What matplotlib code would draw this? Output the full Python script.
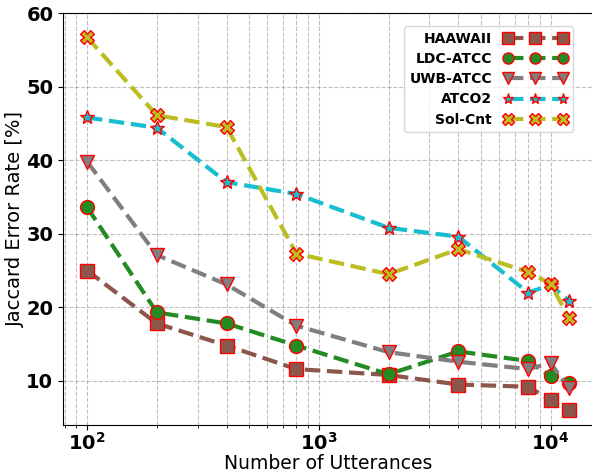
import matplotlib
matplotlib.use('Agg')
from matplotlib import pyplot as plt

utterances = [100, 200, 400, 800, 2000, 4000, 8000, 10000, 12000]

haawaii = [25.0, 17.8, 14.8, 11.6, 10.8, 9.5, 9.2, 7.4, 6.1]
ldc_atcc = [33.6, 19.3, 17.8, 14.8, 10.9, 14.0, 12.7, 10.6, 9.7]
uwb_atcc = [39.8, 27.1, 23.1, 17.5, 13.9, 12.6, 11.6, 12.4, 9.0]
atco2 = [45.8, 44.4, 37.0, 35.4, 30.8, 29.6, 22.0, 23.0, 20.9]
sol_cnt = [56.7, 46.1, 44.5, 27.3, 24.5, 27.9, 24.8, 23.2, 18.6]

series = [
    ('HAAWAII', haawaii, 'tab:brown', 's'),
    ('LDC-ATCC', ldc_atcc, 'forestgreen', 'o'),
    ('UWB-ATCC', uwb_atcc, 'tab:gray', 'v'),
    ('ATCO2', atco2, 'tab:cyan', '*'),
    ('Sol-Cnt', sol_cnt, 'tab:olive', 'X'),
]

fig = plt.figure(figsize=(5.92, 4.72), dpi=100)
ax = fig.add_axes([63 / 592, 1 - 425 / 472, 530 / 592, 412 / 472])

for name, vals, col, mk in series:
    ax.plot(utterances, vals, linestyle='--', linewidth=3, color=col,
            marker=mk, markersize=10, markeredgecolor='red',
            markeredgewidth=1.0, label=name)

ax.set_xscale('log')
ax.set_ylim(4, 60)
ax.grid(True, which='both', linestyle='--', color='gray', alpha=0.5,
        linewidth=0.8)
ax.set_xlabel('Number of Utterances', fontsize=13.5)
ax.xaxis.set_label_coords(0.5, -0.07)
ax.set_ylabel('Jaccard Error Rate [%]', fontsize=14)
ax.yaxis.set_label_coords(-0.072, 0.5)
ax.tick_params(axis='x', which='major', labelsize=14, pad=1.5)
ax.tick_params(axis='y', labelsize=14)
ax.set_yticks([10, 20, 30, 40, 50, 60])
for lab in ax.get_xticklabels() + ax.get_yticklabels():
    lab.set_fontweight('bold')

leg = ax.legend(loc='upper right', markerfirst=False, numpoints=3,
                prop={'weight': 'bold', 'size': 10}, handlelength=4.6,
                labelspacing=0.45, bbox_to_anchor=(0.975, 0.985))
for h in leg.legend_handles:
    h.set_markersize(8)

fig.savefig('out.png', dpi=100)
